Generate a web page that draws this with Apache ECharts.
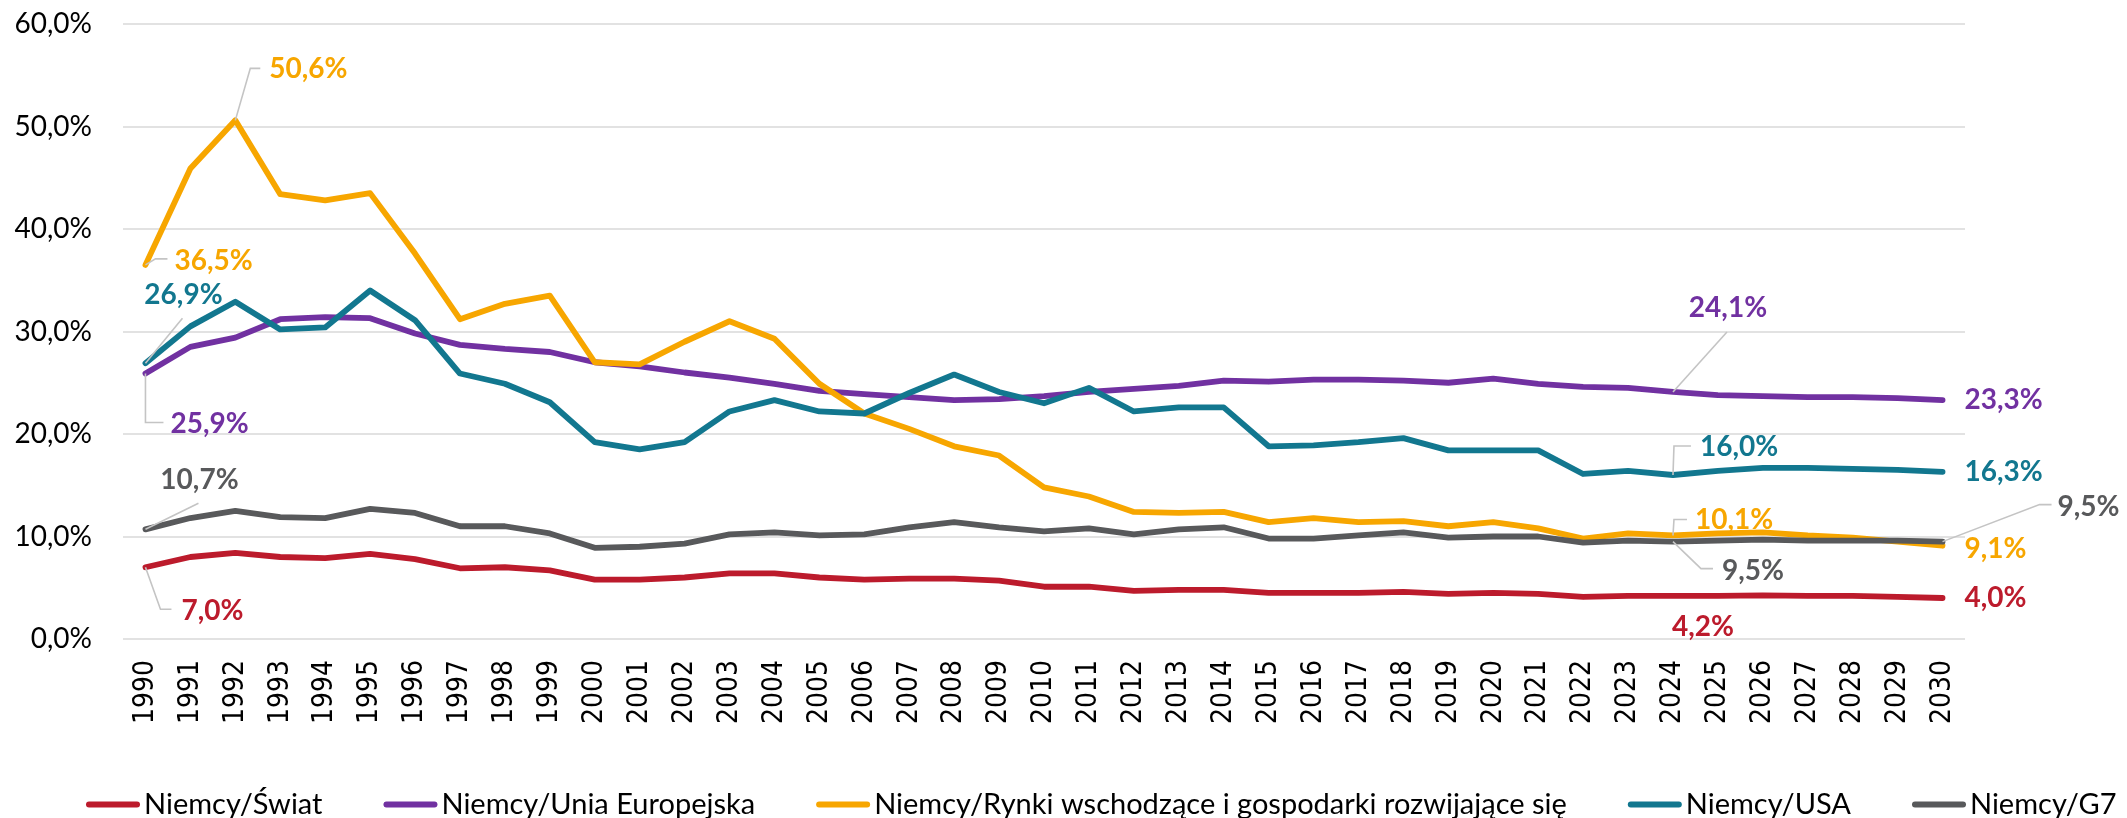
<!DOCTYPE html>
<html>
<head>
<meta charset="utf-8">
<script src="https://cdn.jsdelivr.net/npm/echarts@6/dist/echarts.min.js"></script>
<style>
html,body{margin:0;padding:0;background:#fff;}
#chart{width:2127px;height:818px;}
</style>
</head>
<body>
<div id="chart"></div>
<script>
// ---- data ----
const years = [
  '1990','1991','1992','1993','1994','1995','1996','1997','1998','1999',
  '2000','2001','2002','2003','2004','2005','2006','2007','2008','2009',
  '2010','2011','2012','2013','2014','2015','2016','2017','2018','2019',
  '2020','2021','2022','2023','2024','2025','2026','2027','2028','2029',
  '2030'
];
const seriesNames = [
  'Niemcy/Świat',
  'Niemcy/Unia Europejska',
  'Niemcy/Rynki wschodzące i gospodarki rozwijające się',
  'Niemcy/USA',
  'Niemcy/G7'
];
const swiat = [
  7.0, 8.0, 8.4, 8.0, 7.9, 8.3, 7.8, 6.9, 7.0, 6.7,
  5.8, 5.8, 6.0, 6.4, 6.4, 6.0, 5.8, 5.9, 5.9, 5.7,
  5.1, 5.1, 4.7, 4.8, 4.8, 4.5, 4.5, 4.5, 4.6, 4.4,
  4.5, 4.4, 4.1, 4.2, 4.2, 4.2, 4.25, 4.2, 4.2, 4.1,
  4.0
];
const ue = [
  25.9, 28.5, 29.4, 31.2, 31.4, 31.3, 29.8, 28.7, 28.3, 28.0,
  27.0, 26.6, 26.0, 25.5, 24.9, 24.2, 23.9, 23.6, 23.3, 23.4,
  23.7, 24.1, 24.4, 24.7, 25.2, 25.1, 25.3, 25.3, 25.2, 25.0,
  25.4, 24.9, 24.6, 24.5, 24.1, 23.8, 23.7, 23.6, 23.6, 23.5,
  23.3
];
const rynki = [
  36.5, 45.9, 50.6, 43.4, 42.8, 43.5, 37.6, 31.2, 32.7, 33.5,
  27.0, 26.8, 29.0, 31.0, 29.3, 24.9, 22.0, 20.5, 18.8, 17.9,
  14.8, 13.9, 12.4, 12.3, 12.4, 11.4, 11.8, 11.4, 11.5, 11.0,
  11.4, 10.8, 9.8, 10.3, 10.1, 10.3, 10.4, 10.1, 9.9, 9.5,
  9.1
];
const usa = [
  26.9, 30.5, 32.9, 30.2, 30.4, 34.0, 31.1, 25.9, 24.9, 23.1,
  19.2, 18.5, 19.2, 22.2, 23.3, 22.2, 22.0, 24.0, 25.8, 24.1,
  23.0, 24.5, 22.2, 22.6, 22.6, 18.8, 18.9, 19.2, 19.6, 18.4,
  18.4, 18.4, 16.1, 16.4, 16.0, 16.4, 16.7, 16.7, 16.6, 16.5,
  16.3
];
const g7 = [
  10.7, 11.8, 12.5, 11.9, 11.8, 12.7, 12.3, 11.0, 11.0, 10.3,
  8.9, 9.0, 9.3, 10.2, 10.4, 10.1, 10.2, 10.9, 11.4, 10.9,
  10.5, 10.8, 10.2, 10.7, 10.9, 9.8, 9.8, 10.1, 10.4, 9.9,
  10.0, 10.0, 9.4, 9.6, 9.5, 9.6, 9.7, 9.6, 9.6, 9.6,
  9.5
];
const yTicks = [0, 10, 20, 30, 40, 50, 60];

// ---- styling ----
const seriesData = [swiat, ue, rynki, usa, g7];
const colors = ['#BC1B2C', '#7131A1', '#F7A600', '#12778F', '#58595B'];

// annotated points: series index, year, label offset, leader polyline offsets
const annotations = [
  {s: 2, year: '1992', dx: 34, dy: -51, leader: [[0,0],[15,-52],[25,-52]]},
  {s: 2, year: '1990', dx: 29, dy: -4, leader: [[0,0],[10,-6],[22,-6]]},
  {s: 3, year: '1990', dx: 38, dy: -68, align: 'center', leader: [[0,0],[37,-45]]},
  {s: 1, year: '1990', dx: 25, dy: 50, leader: [[0,0],[0,49],[18,49]]},
  {s: 4, year: '1990', dx: 54, dy: -49, align: 'center', leader: [[0,0],[53,-26]]},
  {s: 0, year: '1990', dx: 36, dy: 44, leader: [[0,0],[15,42],[26,42]]},
  {s: 1, year: '2024', dx: 55, dy: -84, align: 'center', leader: [[0,0],[54,-60]]},
  {s: 3, year: '2024', dx: 27, dy: -28, leader: [[0,0],[1,-29],[18,-29]]},
  {s: 2, year: '2024', dx: 22, dy: -16, leader: [[0,0],[1,-16],[14,-16]]},
  {s: 4, year: '2024', dx: 49, dy: 29, leader: [[0,0],[28,27],[40,27]]},
  {s: 0, year: '2024', dx: 30, dy: 31, align: 'center'},
  {s: 1, year: '2030', dx: 22, dy: 0},
  {s: 3, year: '2030', dx: 22, dy: 0},
  {s: 2, year: '2030', dx: 22, dy: 3},
  {s: 0, year: '2030', dx: 22, dy: 0},
  {s: 4, year: '2030', dx: 115, dy: -35, leader: [[0,0],[97,-37],[109,-37]]}
];

function pct(v) { return v.toFixed(1).replace('.', ',') + '%'; }

const annData = annotations.map(function (a, i) {
  const idx = years.indexOf(a.year);
  return [idx, seriesData[a.s][idx], i];
});

const FONT = 'Lato, "Open Sans", sans-serif';

const series = seriesNames.map(function (name, i) {
  return {
    name: name,
    type: 'line',
    data: seriesData[i],
    symbol: 'none',
    showSymbol: false,
    smooth: false,
    z: 2 + i,
    lineStyle: {width: 5.8, color: colors[i], cap: 'round', join: 'round'},
    itemStyle: {color: colors[i]},
    emphasis: {disabled: true}
  };
});

series.push({
  name: 'annotations',
  type: 'custom',
  data: annData,
  encode: {x: 0, y: 1},
  clip: false,
  silent: true,
  z: 20,
  renderItem: function (params, api) {
    const a = annotations[params.dataIndex];
    const val = api.value(1);
    const p = api.coord([api.value(0), val]);
    const children = [];
    if (a.leader) {
      children.push({
        type: 'polyline',
        shape: {points: a.leader.map(function (o) { return [p[0] + o[0], p[1] + o[1]]; })},
        style: {stroke: '#C4C4C4', lineWidth: 1.6, fill: null}
      });
    }
    children.push({
      type: 'text',
      x: p[0] + a.dx,
      y: p[1] + a.dy,
      style: {
        text: pct(val),
        fill: colors[a.s],
        fontFamily: FONT,
        fontWeight: 'bold',
        fontSize: 28,
        align: a.align || 'left',
        verticalAlign: 'middle'
      }
    });
    return {type: 'group', children: children};
  }
});

const chart = echarts.init(document.getElementById('chart'), null, {renderer: 'canvas'});
chart.setOption({
  animation: false,
  backgroundColor: '#ffffff',
  color: colors,
  grid: {left: 123, right: 162, top: 24, bottom: 179, containLabel: false},
  xAxis: {
    type: 'category',
    data: years,
    boundaryGap: true,
    axisLine: {show: false},
    axisTick: {show: false},
    axisLabel: {
      rotate: 90,
      margin: 21,
      interval: 0,
      color: '#000',
      fontFamily: '"DejaVu Sans Condensed", "DejaVu Sans", sans-serif',
      fontSize: 28
    },
    splitLine: {show: false}
  },
  yAxis: {
    type: 'value',
    min: yTicks[0],
    max: yTicks[yTicks.length - 1],
    interval: 10,
    axisLine: {show: false},
    axisTick: {show: false},
    axisLabel: {
      margin: 31,
      color: '#000',
      fontFamily: FONT,
      fontSize: 28,
      formatter: function (v) { return pct(v); }
    },
    splitLine: {lineStyle: {color: '#E2E2E2', width: 2}}
  },
  legend: {
    data: seriesNames,
    left: 81,
    top: 785,
    itemWidth: 54,
    itemHeight: 6,
    itemGap: 61,
    icon: 'path://M3,0 L51,0 A3,3 0 0 1 51,6 L3,6 A3,3 0 0 1 3,0 Z',
    textStyle: {color: '#000', fontFamily: FONT, fontSize: 29, padding: [0, 0, 0, -1]},
    selectedMode: false
  },
  series: series
});
</script>
</body>
</html>
